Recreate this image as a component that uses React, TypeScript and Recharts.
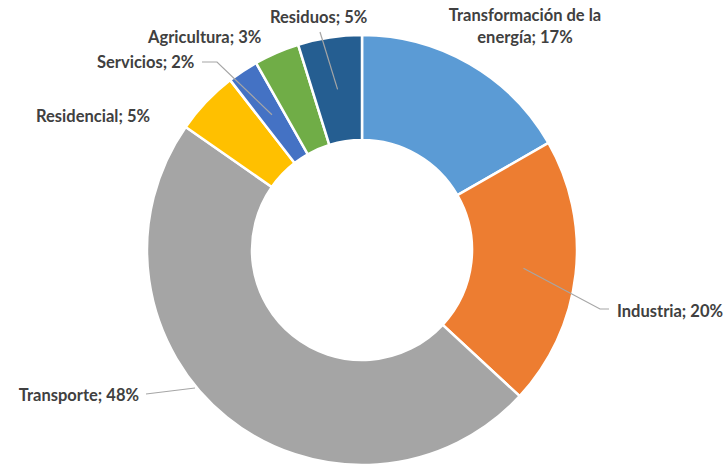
import { PieChart, Pie, Cell } from 'recharts'

// Emisiones por sector (%), order clockwise from 12 o'clock
const sectors = [
  'Transformación de la energía',
  'Industria',
  'Transporte',
  'Residencial',
  'Servicios',
  'Agricultura',
  'Residuos',
]
const shares = [16.7, 20.2, 47.8, 4.8, 2.3, 3.4, 4.8]
const colors = ['#5B9BD5', '#ED7D31', '#A5A5A5', '#FFC000', '#4472C4', '#70AD47', '#255E91']

const data = sectors.map((name, i) => ({ name, value: shares[i] }))

// label placement relative to the pie centre (Excel style, hand placed)
type LabelPos = {
  x: number
  y: number
  anchor: 'start' | 'middle' | 'end'
  lines?: string[]
  leader?: number[][] // points after the slice anchor
  fromSlice?: boolean
}
const labelPos: LabelPos[] = [
  { x: 163, y: -229, anchor: 'middle', lines: ['Transformación de la', 'energía'] },
  { x: 255, y: 67, anchor: 'start', fromSlice: true, leader: [[238, 59], [247, 59]] },
  { x: -223, y: 151, anchor: 'end', leader: [[-167, 138], [-216, 144]] },
  { x: -326, y: -128, anchor: 'start' },
  { x: -265, y: -182, anchor: 'start', fromSlice: true, leader: [[-145, -188], [-160, -188]] },
  { x: -214, y: -207, anchor: 'start' },
  { x: -92, y: -227, anchor: 'start', fromSlice: true, leader: [[-42, -218]] },
]

const RAD = Math.PI / 180
const textColor = '#404040'
const font = 'Lato, "Open Sans", sans-serif'

const renderLabel = (props: any) => {
  const { cx, cy, midAngle, innerRadius, outerRadius, percent, index, name } = props
  const pos = labelPos[index]
  const pct = `${Math.round(percent * 100)}%`
  const pts: number[][] = []
  if (pos.leader) {
    if (pos.fromSlice) {
      const r = (innerRadius + outerRadius) / 2
      pts.push([cx + r * Math.cos(-midAngle * RAD), cy + r * Math.sin(-midAngle * RAD)])
    }
    pos.leader.forEach((p) => pts.push([cx + p[0], cy + p[1]]))
  }
  const lines = pos.lines ? [...pos.lines] : [name]
  lines[lines.length - 1] = `${lines[lines.length - 1]}; ${pct}`
  return (
    <g key={`lbl-${index}`}>
      {pts.length > 1 && (
        <polyline
          points={pts.map((p) => p.join(',')).join(' ')}
          fill="none"
          stroke="#A6A6A6"
          strokeWidth={1.2}
        />
      )}
      <text
        x={cx + pos.x}
        y={cy + pos.y}
        textAnchor={pos.anchor}
        fill={textColor}
        fontFamily={font}
        fontWeight={700}
        fontSize={16.5}
      >
        {lines.map((l, i) => (
          <tspan key={i} x={cx + pos.x} dy={i === 0 ? 0 : 22}>
            {l}
          </tspan>
        ))}
      </text>
    </g>
  )
}

export default function App() {
  return (
    <div style={{ position: 'absolute', left: 0, top: 0, background: '#fff' }}>
      <PieChart width={728} height={466} margin={{ top: 0, right: 0, bottom: 0, left: 0 }}>
        <Pie
          data={data}
          dataKey="value"
          nameKey="name"
          cx={362}
          cy={250}
          innerRadius={110}
          outerRadius={215}
          startAngle={90}
          endAngle={-270}
          stroke="#fff"
          strokeWidth={2.5}
          label={renderLabel}
          labelLine={false}
          isAnimationActive={false}
        >
          {data.map((_, i) => (
            <Cell key={`cell-${i}`} fill={colors[i]} />
          ))}
        </Pie>
      </PieChart>
    </div>
  )
}
